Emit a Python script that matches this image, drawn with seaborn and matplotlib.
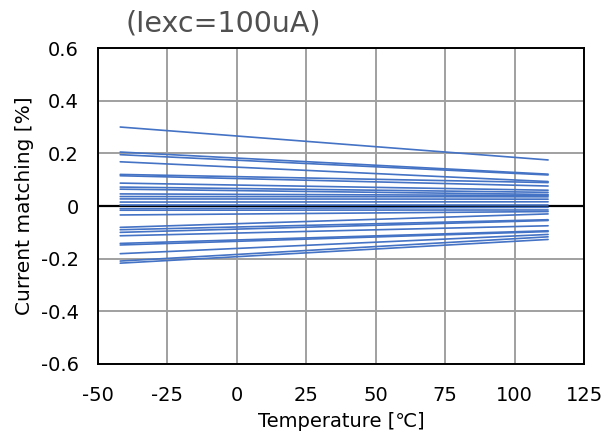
import matplotlib
matplotlib.use('Agg')
import matplotlib.pyplot as plt
import numpy as np
import pandas as pd
import seaborn as sns

# temperature at the two ends of each line
temps = [-42, 112]

# current matching [%] at the low / high temperature end, one entry per device
start_vals = [0.30, 0.205, 0.195, 0.168, 0.12, 0.115, 0.087, 0.072, 0.064,
              0.046, 0.036, 0.027, 0.015, 0.005, -0.010, -0.016, -0.034,
              -0.081, -0.09, -0.10, -0.113, -0.142, -0.148, -0.181, -0.209, -0.217]
end_vals = [0.175, 0.121, 0.118, 0.093, 0.089, 0.076, 0.06, 0.052, 0.044,
            0.04, 0.035, 0.026, 0.016, 0.005, -0.005, -0.015, -0.021,
            -0.03, -0.052, -0.055, -0.075, -0.094, -0.097, -0.108, -0.117, -0.127]

xticks = [-50, -25, 0, 25, 50, 75, 100, 125]
yticks = [-0.6, -0.4, -0.2, 0, 0.2, 0.4, 0.6]
ytick_labels = ['-0.6', '-0.4', '-0.2', '0', '0.2', '0.4', '0.6']

rows = []
for i, (a, b) in enumerate(zip(start_vals, end_vals)):
    rows.append({'dev': i, 'T': temps[0], 'v': a})
    rows.append({'dev': i, 'T': temps[1], 'v': b})
df = pd.DataFrame(rows)

sns.set_theme(style='white')
plt.rcParams['font.family'] = ['DejaVu Sans', 'Noto Sans CJK JP']

fig = plt.figure(figsize=(6.1, 4.34), dpi=100)
ax = fig.add_axes([0.1607, 0.1613, 0.797, 0.728])

sns.lineplot(data=df, x='T', y='v', units='dev', estimator=None,
             color='#4472C4', linewidth=1.2, ax=ax, legend=False)

ax.axhline(0, color='black', linewidth=1.6, zorder=1.5)
ax.set_xlim(-50, 125)
ax.set_ylim(-0.6, 0.6)
ax.set_xticks(xticks)
ax.set_xticklabels([str(t) for t in xticks])
ax.set_yticks(yticks)
ax.set_yticklabels(ytick_labels)
ax.grid(True, color='#A0A0A0', linewidth=1.4)
ax.set_axisbelow(True)
for s in ax.spines.values():
    s.set_color('black')
    s.set_linewidth(1.4)
ax.tick_params(axis='both', length=0, labelsize=14, colors='black')
ax.tick_params(axis='y', pad=14)
ax.tick_params(axis='x', pad=16)
ax.set_xlabel('Temperature [℃]', fontsize=14, color='black')
ax.xaxis.set_label_coords(0.5, -0.152)
ax.set_ylabel('Current matching [%]', fontsize=14.5, color='black')
ax.yaxis.set_label_coords(-0.132, 0.5)

fig.text(0.366, 0.947, '(Iexc=100uA)', fontsize=20.5, color='#505050',
         ha='center', va='center')

fig.savefig('out.png', dpi=100)
